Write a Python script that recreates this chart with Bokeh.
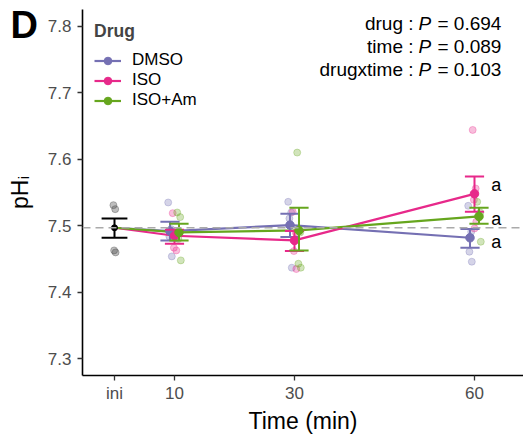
from bokeh.plotting import figure
from bokeh.models import Range1d, FixedTicker, Span, Label, Legend, LegendItem, Title
from bokeh.embed import file_html
from bokeh.resources import INLINE
from bokeh.core.properties import value

# ---------------- data ----------------
times = [10, 30, 60]
tick_values = [0, 10, 30, 60]
tick_labels = ["ini", "10", "30", "60"]
groups = ["DMSO", "ISO", "ISO+Am"]

ini_raw = [7.531, 7.525, 7.463, 7.460]
ini_mean = 7.497
ini_lo = 7.482
ini_hi = 7.511

dmso_mean = [7.492, 7.501, 7.482]
dmso_lo = [7.478, 7.483, 7.467]
dmso_hi = [7.506, 7.518, 7.495]
iso_mean = [7.485, 7.478, 7.548]
iso_lo = [7.473, 7.462, 7.521]
iso_hi = [7.494, 7.492, 7.574]
am_mean = [7.490, 7.493, 7.514]
am_lo = [7.478, 7.463, 7.503]
am_hi = [7.503, 7.527, 7.527]

dmso_raw = [[7.535, 7.495, 7.484, 7.454],
            [7.536, 7.520, 7.511, 7.437],
            [7.530, 7.491, 7.461, 7.446]]
iso_raw = [[7.519, 7.491, 7.467, 7.463],
           [7.521, 7.490, 7.462, 7.435],
           [7.644, 7.556, 7.539, 7.506, 7.496]]
am_raw = [[7.520, 7.513, 7.480, 7.448],
          [7.610, 7.490, 7.443, 7.437],
          [7.536, 7.520, 7.515, 7.476]]

letters = ["a", "a", "a"]
letter_y = [7.476, 7.562, 7.510]

p_names = ["drug", "time", "drugxtime"]
p_values = ["0.694", "0.089", "0.103"]

# ---------------- styling ----------------
colors = ["#7570B3", "#E7298A", "#66A61E"]
dodge = [-0.75, 0.0, 0.75]
jitter = [-0.3, 0.2, -0.1, 0.3, 0.0]
FONT = "Liberation Sans"

W, H = 523, 436
FL, FT, FR, FB = 82, 9, 523, 376   # frame box in page pixels
X0, X1 = -5.333, 68.167
Y0, Y1 = 7.275, 7.825

def fx(px):  # pixel -> data x
    return X0 + (px - FL) / (FR - FL) * (X1 - X0)

def fy(py):  # pixel (from top) -> data y
    return Y1 - (py - FT) / (FB - FT) * (Y1 - Y0)

p = figure(width=W, height=H, output_backend="svg", toolbar_location=None,
           x_range=Range1d(X0, X1), y_range=Range1d(Y0, Y1),
           min_border_left=FL, min_border_right=W - FR,
           min_border_top=FT, min_border_bottom=H - FB)
p.outline_line_color = None
p.xgrid.visible = False
p.ygrid.visible = False
p.background_fill_color = "white"

for ax in (p.xaxis[0], p.yaxis[0]):
    ax.axis_line_color = "black"
    ax.axis_line_width = 1.6
    ax.major_tick_line_color = "#333333"
    ax.major_tick_line_width = 1.3
    ax.major_tick_in = 0
    ax.major_tick_out = 5
    ax.minor_tick_line_color = None
    ax.major_label_text_font = FONT
    ax.major_label_text_font_size = "17px"
    ax.major_label_text_color = "#4D4D4D"
    ax.axis_label_text_font = FONT
    ax.axis_label_text_font_size = "23px"
    ax.axis_label_text_font_style = "normal"
    ax.axis_label_text_color = "black"

p.xaxis.ticker = FixedTicker(ticks=tick_values)
p.xaxis.major_label_overrides = {v: l for v, l in zip(tick_values, tick_labels)}
p.xaxis.major_label_standoff = 3
p.xaxis.axis_label = "Time (min)"
p.xaxis.axis_label_standoff = 2

p.yaxis.ticker = FixedTicker(ticks=[7.3, 7.4, 7.5, 7.6, 7.7, 7.8])
p.yaxis.major_label_standoff = 6
p.yaxis.axis_label = "pH\u1d62"
p.yaxis.axis_label_standoff = 12

# raw points
p.scatter(x=[0 + jitter[k % len(jitter)] * 0.6 for k in range(len(ini_raw))], y=ini_raw,
          marker="circle", size=7, fill_color="#444444", line_color="#444444", alpha=0.35)

all_raw = [dmso_raw, iso_raw, am_raw]
for g in range(3):
    xs, ys = [], []
    for ti, t in enumerate(times):
        for k, v in enumerate(all_raw[g][ti]):
            xs.append(t + dodge[g] + jitter[k % len(jitter)])
            ys.append(v)
    p.scatter(x=xs, y=ys, marker="circle", size=7, fill_color=colors[g],
              line_color=colors[g], alpha=0.3)

# reference line at initial mean
p.add_layout(Span(location=ini_mean, dimension="width", line_color="#AAAAAA",
                  line_width=1.6, line_dash="8 5"))

means = [dmso_mean, iso_mean, am_mean]
los = [dmso_lo, iso_lo, am_lo]
his = [dmso_hi, iso_hi, am_hi]

line_rs, pt_rs = [], []
for g in range(3):
    xs = [0] + [t + dodge[g] for t in times]
    ys = [ini_mean] + means[g]
    lr = p.line(x=xs, y=ys, line_color=colors[g], line_width=2.2)
    line_rs.append(lr)

# initial error bar + mean
cap0 = 2.15
p.segment(x0=[0], y0=[ini_lo], x1=[0], y1=[ini_hi], line_color="black", line_width=2)
p.segment(x0=[0 - cap0, 0 - cap0], y0=[ini_lo, ini_hi], x1=[0 + cap0, 0 + cap0],
          y1=[ini_lo, ini_hi], line_color="black", line_width=2)
p.scatter(x=[0], y=[ini_mean], marker="circle", size=6, fill_color="black", line_color="black")

cap = 1.6
for g in range(3):
    xc = [t + dodge[g] for t in times]
    p.segment(x0=xc, y0=los[g], x1=xc, y1=his[g], line_color=colors[g], line_width=2)
    p.segment(x0=[x - cap for x in xc], y0=los[g], x1=[x + cap for x in xc], y1=los[g],
              line_color=colors[g], line_width=2)
    p.segment(x0=[x - cap for x in xc], y0=his[g], x1=[x + cap for x in xc], y1=his[g],
              line_color=colors[g], line_width=2)
    pr = p.scatter(x=xc, y=means[g], marker="circle", size=8.5, fill_color=colors[g],
                   line_color=colors[g])
    pt_rs.append(pr)

# significance letters
p.text(x=[times[-1] + 2.8] * 3, y=letter_y, text=letters, text_font=value(FONT),
       text_font_size="18px", text_baseline="middle", text_align="left", text_color="black")

# legend
legend = Legend(items=[LegendItem(label=groups[g], renderers=[line_rs[g], pt_rs[g]])
                       for g in range(3)],
                location="top_left", title="Drug")
legend.title_text_font = FONT
legend.title_text_font_style = "bold"
legend.title_text_font_size = "17.5px"
legend.title_standoff = 8
legend.label_text_font = FONT
legend.label_text_font_size = "17px"
legend.label_text_color = "black"
legend.glyph_width = 27
legend.glyph_height = 19
legend.label_height = 19
legend.label_standoff = 11
legend.spacing = 0
legend.margin = 12
legend.padding = 9
legend.border_line_color = None
legend.background_fill_alpha = 0
p.add_layout(legend)

# panel tag (title in the top panel, pulled down beside the y axis)
p.add_layout(Title(text="D", text_font=FONT, text_font_size="38px", text_font_style="bold",
                   text_color="black", align="left", offset=-72, standoff=-73), "above")

# P-value annotations
baselines = [23.0, 46.5, 69.0]
for name, pv, b in zip(p_names, p_values, baselines):
    p.add_layout(Label(x=fx(413), y=fy(b), text=name + " :", text_font=FONT,
                       text_font_size="19px", text_align="right", text_baseline="alphabetic",
                       text_color="black"))
    p.add_layout(Label(x=fx(418), y=fy(b), text="P", text_font=FONT,
                       text_font_size="19px", text_font_style="italic", text_align="left",
                       text_baseline="alphabetic", text_color="black"))
    p.add_layout(Label(x=fx(437), y=fy(b), text="= " + pv, text_font=FONT,
                       text_font_size="19px", text_align="left", text_baseline="alphabetic",
                       text_color="black"))

open("out.html", "w").write(file_html(p, INLINE))
